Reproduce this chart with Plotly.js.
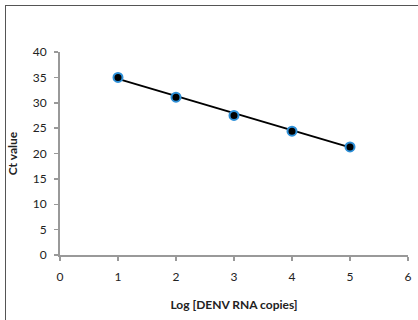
<!DOCTYPE html>
<html><head><meta charset="utf-8">
<script src="https://cdn.plot.ly/plotly-3.0.1.min.js"></script>
<style>
html,body{margin:0;padding:0;background:#fff;overflow:hidden;width:418px;height:320px;}
#frame{position:absolute;left:5px;top:5px;width:413px;height:315px;border-left:1.5px solid #555;border-top:1.5px solid #555;box-sizing:border-box;}
#chart{position:absolute;left:0;top:0;width:418px;height:320px;}
</style>
</head><body>
<div id="frame"></div>
<div id="chart"></div>
<script>
const logCopies = [1, 2, 3, 4, 5];
const ctValues = [35.0, 31.1, 27.5, 24.4, 21.3];
const trendX = [1, 5];
const trendY = [34.7, 21.2];

const data = [
  {x: trendX, y: trendY, type: 'scatter', mode: 'lines', line: {color: '#000', width: 2}, hoverinfo: 'skip'},
  {x: logCopies, y: ctValues, type: 'scatter', mode: 'markers',
   marker: {color: '#000', size: 9, line: {color: '#2e90d8', width: 2}}}
];
const fam = 'Lato, Liberation Sans, Arial, sans-serif';
const layout = {
  width: 418, height: 320,
  margin: {l: 60, r: 10, t: 52, b: 65},
  paper_bgcolor: 'rgba(0,0,0,0)', plot_bgcolor: 'rgba(0,0,0,0)',
  showlegend: false, font: {family: fam, size: 12, color: '#222'},
  xaxis: {range: [0, 6], tickvals: [0,1,2,3,4,5,6], showgrid: false, zeroline: false,
    showline: true, linecolor: '#999', linewidth: 2, ticks: 'outside', ticklen: 4, tickcolor: '#999', tickwidth: 1.5,
    ticklabelstandoff: 6,
    title: {text: '<b>Log [DENV RNA copies]</b>', font: {family: fam, size: 12, color: '#222'}, standoff: 17}},
  yaxis: {range: [0, 40], tickvals: [0,5,10,15,20,25,30,35,40], showgrid: false, zeroline: false,
    showline: true, linecolor: '#999', linewidth: 2, ticks: 'outside', ticklen: 4, tickcolor: '#999', tickwidth: 1.5,
    ticklabelstandoff: 5,
    title: {text: '<b>Ct value</b>', font: {family: fam, size: 12, color: '#222'}, standoff: 12}}
};
Plotly.newPlot('chart', data, layout, {displayModeBar: false, staticPlot: true});
</script>
</body></html>
